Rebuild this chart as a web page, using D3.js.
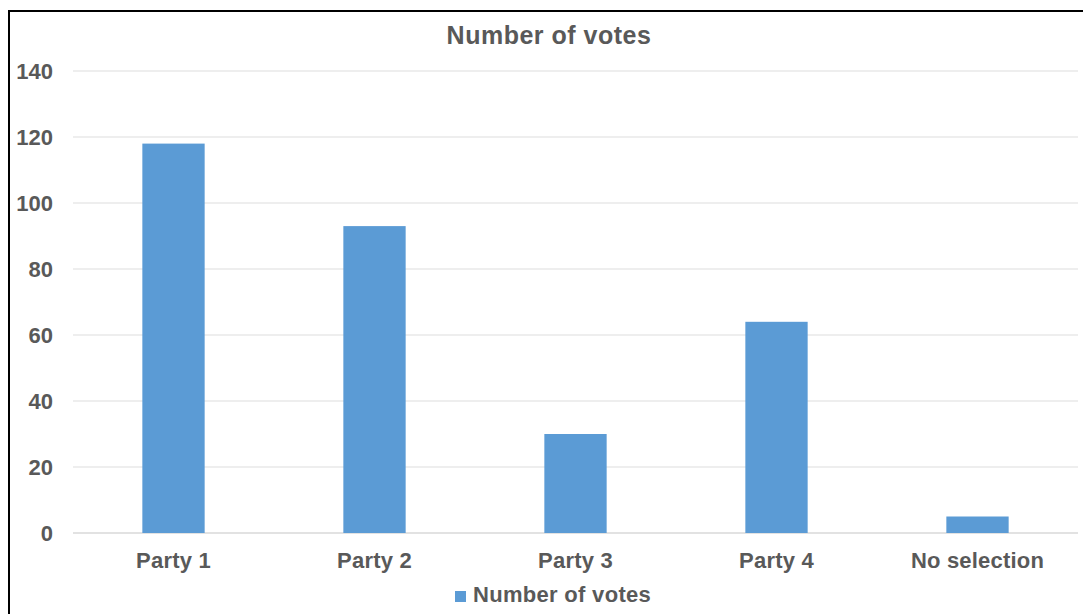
<!DOCTYPE html>
<html>
<head>
<meta charset="utf-8">
<script src="https://cdn.jsdelivr.net/npm/d3@7"></script>
<style>
  body { margin: 0; background: #fff; }
  svg { display: block; }
  text { font-family: "Liberation Sans", Arial, sans-serif; font-weight: bold; fill: #595959; }
</style>
</head>
<body>
<script>
// chart data
var categories = ["Party 1", "Party 2", "Party 3", "Party 4", "No selection"];
var votes = [118, 93, 30, 64, 5];
var yTicks = [0, 20, 40, 60, 80, 100, 120, 140];
var seriesName = "Number of votes";
var chartTitle = "Number of votes";

var width = 1083, height = 614;
var margin = {left: 73, right: 5, top: 71, bottom: 81};
var barColor = "#5b9bd5";

var svg = d3.select("body").append("svg")
    .attr("width", width)
    .attr("height", height);

// outer frame (only top and left edges show in the picture)
svg.append("rect")
    .attr("x", 9)
    .attr("y", 11)
    .attr("width", width + 20)
    .attr("height", height + 20)
    .attr("fill", "none")
    .attr("stroke", "#000")
    .attr("stroke-width", 2);

var x = d3.scaleBand()
    .domain(categories)
    .range([margin.left, width - margin.right])
    .paddingInner(0.69)
    .paddingOuter(0.345);

var y = d3.scaleLinear()
    .domain([0, 140])
    .range([height - margin.bottom, margin.top]);

// gridlines
svg.append("g")
    .selectAll("line")
    .data(yTicks)
    .enter()
    .append("line")
    .attr("x1", margin.left)
    .attr("x2", width - margin.right)
    .attr("y1", function(d) { return y(d); })
    .attr("y2", function(d) { return y(d); })
    .attr("stroke", function(d) { return d === 0 ? "#d9d9d9" : "#e8e8e8"; })
    .attr("stroke-width", 1.5);

// y axis labels
var yAxis = svg.append("g")
    .attr("transform", "translate(" + (margin.left - 20) + ",0)")
    .call(d3.axisLeft(y).tickValues(yTicks).tickSize(0).tickPadding(0));
yAxis.select(".domain").remove();
yAxis.selectAll("text")
    .attr("font-size", 22)
    .style("font-family", null);

// bars
svg.append("g")
    .selectAll("rect")
    .data(votes)
    .enter()
    .append("rect")
    .attr("x", function(d, i) { return x(categories[i]); })
    .attr("width", x.bandwidth())
    .attr("y", function(d) { return y(d); })
    .attr("height", function(d) { return y(0) - y(d); })
    .attr("fill", barColor);

// x axis labels
var xAxis = svg.append("g")
    .attr("transform", "translate(0," + y(0) + ")")
    .call(d3.axisBottom(x).tickSize(0).tickPadding(19));
xAxis.select(".domain").remove();
xAxis.selectAll("text")
    .attr("font-size", 22)
    .attr("letter-spacing", 0.2)
    .attr("dy", "0.71em");

// title
svg.append("text")
    .attr("x", 549)
    .attr("y", 44)
    .attr("text-anchor", "middle")
    .attr("font-size", 25)
    .attr("letter-spacing", 0.5)
    .text(chartTitle);

// legend
var legend = svg.append("g").attr("transform", translate(455, 591));
legend.append("rect")
    .attr("width", 11)
    .attr("height", 11)
    .attr("fill", barColor);
legend.append("text")
    .attr("x", 18)
    .attr("y", 11)
    .attr("font-size", 22)
    .attr("letter-spacing", 0.3)
    .text(seriesName);

function translate(a, b) {
    return "translate(" + a + "," + b + ")";
}
</script>
</body>
</html>
